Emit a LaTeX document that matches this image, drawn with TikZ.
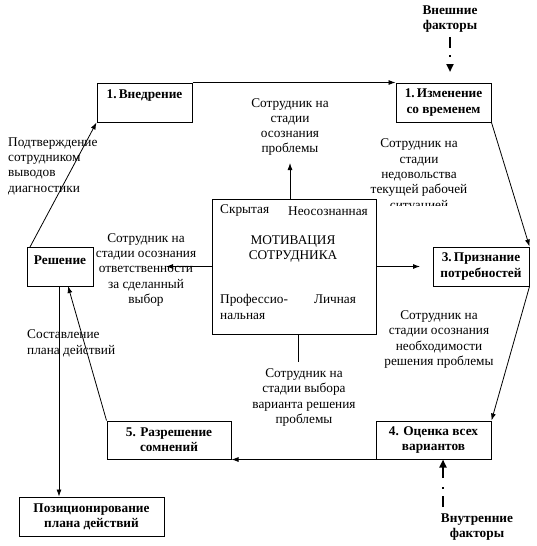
\documentclass[tikz,border=0pt]{standalone}
\usepackage{fontspec}
\setmainfont{Liberation Serif}
\usetikzlibrary{arrows.meta,calc}
\tikzset{
  box/.style={draw, line width=1pt, inner sep=0pt, align=center, font=\bfseries},
  txt/.style={inner sep=0pt, align=center},
  ltxt/.style={inner sep=0pt, align=left, anchor=west},
  btxt/.style={inner sep=0pt, align=center, font=\bfseries},
  arr/.style={-{Latex[length=7pt,width=5pt]}, line width=0.8pt},
  plain/.style={line width=0.9pt},
  ddarr/.style={line width=2.6pt, dash pattern=on 11pt off 7pt on 2pt off 9pt, -{Triangle[length=8pt,width=7pt]}}
}
\begin{document}
\begin{tikzpicture}[x=1pt,y=-1pt]
\fontsize{13.3}{15.3}\selectfont
\useasboundingbox (0,0) rectangle (536,546);
\fill[white] (0,0) rectangle (536,546);

% boxes
\node[box, minimum width=95pt, minimum height=39pt] (vn) at (144.5,102.5) {};
\node[btxt] (vnt) at (144.5,96) {1.\,Внедрение};
\node[box, minimum width=95pt, minimum height=39pt] (iz) at (443.5,102.5) {1.\,Изменение\\со временем};
\node[box, minimum width=96pt, minimum height=39pt] (pr) at (481,266.5) {3.\,Признание\\потребностей};
\node[box, minimum width=115pt, minimum height=38pt] (oc) at (433.5,440) {4. Оценка всех\\вариантов};
\node[box, minimum width=124pt, minimum height=38pt] (rz) at (169,440) {5. Разрешение\\сомнений};
\node[box, minimum width=66pt, minimum height=39pt] (re) at (60,266.5) {};
\node[btxt] (ret) at (60,260) {Решение};
\node[box, minimum width=145pt, minimum height=39pt] (poz) at (91.5,516.5) {Позиционирование\\плана действий};

% motivation box
\node[draw, line width=1pt, minimum width=164pt, minimum height=135pt, inner sep=0pt] (mot) at (294,266.5) {};
\node[inner sep=0pt, anchor=west] (m1) at (220,211) {Скрытая};
\node[inner sep=0pt, anchor=east] (m2) at (368,211) {Неосознанная};
\node[txt] (m3) at (293,249) {МОТИВАЦИЯ\\СОТРУДНИКА};
\node[ltxt] (m4) at (220,307) {Профессио-\\нальная};
\node[txt] (m5) at (335,299) {Личная};

% factor labels
\node[btxt] (ext) at (450,19) {Внешние\\факторы};
\node[btxt] (int) at (477,527) {Внутренние\\факторы};

% stage texts
\node[txt] (p1) at (290,127) {Сотрудник на\\стадии\\осознания\\проблемы};
\begin{scope}
\clip (340,130) rectangle (500,205);
\node[txt] (p2) at (419,175.5) {Сотрудник на\\стадии\\недовольства\\текущей рабочей\\ситуацией};
\end{scope}
\node[ltxt] (p3) at (8,166) {Подтверждение\\сотрудником\\выводов\\диагностики};
\node[txt] (p4) at (146,270) {Сотрудник на\\стадии осознания\\ответственности\\за сделанный\\выбор};
\node[ltxt] (p5) at (27,343.5) {Составление\\плана действий};
\node[txt] (p6) at (439,339.5) {Сотрудник на\\стадии осознания\\необходимости\\решения проблемы};
\node[txt] (p7) at (304,397.5) {Сотрудник на\\стадии выбора\\варианта решения\\проблемы};

% free ends
\coordinate (extS) at (450,37);
\coordinate (extE) at (450,72);
\coordinate (intS) at (443,507);
\coordinate (p1E) at (290,163);
\coordinate (motR) at (420,266.5);
\coordinate (motL) at (166,266.5);
\coordinate (motB) at (298,362);
\coordinate (reB) at (68,286);
\coordinate (reT) at (30,247);
\coordinate (reD) at (59,286);

% connectors
\draw[arr] (vn.north east) -- (iz.north west);
\draw[ddarr] (extS) -- (extE);
\draw[arr] (iz.south east) -- (pr.north east);
\draw[arr] (pr.south east) -- (oc.north east);
\draw[arr] (oc.south west) -- (rz.south east);
\draw[ddarr] (intS) -- (intS |- oc.south);
\draw[arr] (rz.north west) -- (reB);
\draw[arr] (reT) -- (vn.south west);
\draw[arr] (reD) -- (reD |- poz.north);
\draw[arr] (p1E |- mot.north) -- (p1E);
\draw[arr] (mot.east) -- (motR);
\draw[arr] (mot.west) -- (motL);
\draw[plain] (motB |- mot.south) -- (motB);
\end{tikzpicture}
\end{document}
